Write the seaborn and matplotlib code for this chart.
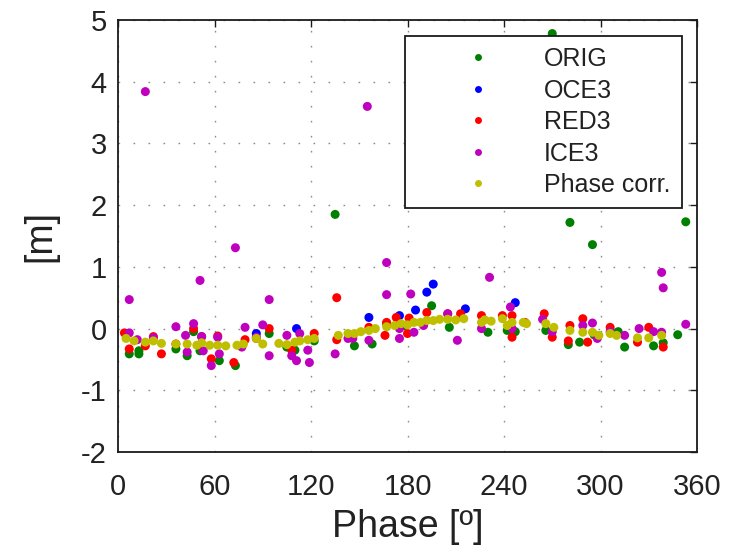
import matplotlib
matplotlib.use("Agg")
import matplotlib.pyplot as plt
from matplotlib.lines import Line2D
import seaborn as sns
import pandas as pd

# ---------------- data ----------------
series_names = ["ORIG", "OCE3", "RED3", "ICE3", "Phase corr."]
series_colors = ["#008000", "#0000ff", "#ff0000", "#bf00bf", "#bfbf00"]

orig_phase = [7, 13, 13, 36, 43, 47, 51, 63, 73, 94, 105, 110, 122, 135, 147, 158,
              167, 178, 195, 206, 230, 242, 247, 266, 270, 280, 281, 287, 295, 296,
              311, 315, 333, 339, 348, 353]
orig_val = [-0.41, -0.41, -0.36, -0.33, -0.44, -0.05, -0.36, -0.52, -0.60, -0.08,
            -0.30, -0.35, -0.20, 1.85, -0.28, -0.25, 0.08, 0.05, 0.37, 0.02, -0.06,
            -0.03, -0.05, -0.03, 4.78, -0.26, 1.72, -0.22, 1.36, -0.10, -0.05, -0.30,
            -0.28, -0.23, -0.10, 1.73]

oce_phase = [86, 111, 156, 175, 185, 192, 196, 216, 247]
oce_val = [-0.08, 0.00, 0.18, 0.21, 0.30, 0.59, 0.72, 0.32, 0.42]

red_phase = [4, 7, 17, 22, 27, 36, 47, 52, 58, 62, 72, 79, 86, 94, 108, 122, 136,
             136, 156, 166, 167, 173, 180, 181, 192, 205, 213, 226, 239, 245, 245,
             253, 265, 270, 280, 281, 289, 292, 306, 323, 330, 339]
red_val = [-0.07, -0.33, -0.28, -0.13, -0.41, -0.25, 0.00, -0.13, -0.49, -0.12,
           -0.55, -0.18, -0.16, 0.00, -0.35, -0.08, 0.50, -0.18, 0.02, -0.11, 0.10,
           0.18, -0.08, 0.17, 0.26, 0.24, 0.24, 0.21, 0.21, -0.14, 0.21, 0.10, 0.24,
           -0.14, -0.20, 0.05, 0.16, -0.22, 0.02, -0.22, 0.02, -0.30]

ice_phase = [7, 7, 12, 17, 22, 36, 42, 43, 47, 51, 52, 53, 58, 62, 63, 73, 77, 79,
             86, 90, 94, 94, 105, 108, 111, 113, 118, 119, 135, 143, 146, 155, 156,
             167, 167, 175, 175, 182, 184, 190, 205, 211, 226, 231, 244, 245, 264,
             270, 289, 295, 298, 306, 315, 324, 333, 338, 338, 339, 353]
ice_val = [0.47, -0.07, -0.18, 3.84, -0.15, 0.03, -0.11, -0.38, 0.08, 0.78, -0.13,
           -0.36, -0.60, -0.14, -0.41, 1.31, -0.30, 0.02, -0.14, 0.06, 0.47, -0.44,
           -0.11, -0.44, -0.52, -0.08, -0.35, -0.55, -0.41, -0.16, -0.16, 3.60,
           -0.19, 1.07, 0.55, -0.16, 0.00, 0.56, -0.06, 0.05, 0.24, -0.19, 0.00,
           0.83, 0.35, 0.00, 0.15, -0.05, 0.05, 0.09, -0.16, -0.05, -0.11, 0.00,
           -0.05, -0.06, 0.91, 0.66, 0.07]

pc_phase = [5, 10, 17, 22, 27, 36, 43, 49, 52, 57, 62, 67, 74, 78, 86, 90, 100,
            105, 110, 113, 118, 122, 137, 143, 147, 151, 156, 160, 167, 172, 176,
            180, 184, 188, 192, 196, 200, 205, 210, 215, 226, 228, 232, 239, 242,
            245, 252, 254, 266, 271, 281, 289, 295, 299, 306, 310, 323, 330, 338]
pc_val = [-0.16, -0.20, -0.22, -0.20, -0.24, -0.25, -0.25, -0.27, -0.23, -0.27,
          -0.27, -0.28, -0.27, -0.25, -0.16, -0.25, -0.24, -0.26, -0.22, -0.20,
          -0.18, -0.16, -0.11, -0.08, -0.08, -0.05, -0.03, 0.00, 0.03, 0.05, 0.08,
          0.06, 0.10, 0.10, 0.13, 0.13, 0.15, 0.15, 0.14, 0.16, 0.10, 0.14, 0.12,
          0.16, 0.05, 0.10, 0.10, 0.08, 0.08, 0.02, -0.03, -0.06, -0.06, -0.11,
          -0.08, -0.11, -0.15, -0.15, -0.11]

x_ticks = [0, 60, 120, 180, 240, 300, 360]
y_ticks = [-2, -1, 0, 1, 2, 3, 4, 5]

# ---------------- build long table ----------------
frames = []
for name, ph, va in zip(series_names,
                        [orig_phase, oce_phase, red_phase, ice_phase, pc_phase],
                        [orig_val, oce_val, red_val, ice_val, pc_val]):
    frames.append(pd.DataFrame({"phase": ph, "value": va, "series": name}))
df = pd.concat(frames, ignore_index=True)
palette = dict(zip(series_names, series_colors))

# ---------------- style ----------------
sns.set_theme(style="white")
plt.rcParams["font.family"] = ["Liberation Sans", "DejaVu Sans"]
plt.rcParams["text.color"] = "#222222"
plt.rcParams["axes.labelcolor"] = "#222222"
plt.rcParams["xtick.color"] = "#222222"
plt.rcParams["ytick.color"] = "#222222"

fig = plt.figure(figsize=(7.29, 5.5), dpi=100)
ax = fig.add_axes([118 / 729, 1 - 452 / 550, 579 / 729, 432 / 550])

sns.scatterplot(data=df, x="phase", y="value", hue="series", hue_order=series_names,
                palette=palette, s=42, linewidth=0, legend=False, ax=ax, zorder=3)

ax.set_xlim(0, 360)
ax.set_ylim(-2, 5)
ax.set_xticks(x_ticks)
ax.set_yticks(y_ticks)
ax.set_xticklabels([str(t) for t in x_ticks])
ax.set_yticklabels([str(t) for t in y_ticks])

ax.grid(True, color="#8c8c8c", linestyle=(0, (1.2, 9.6)), linewidth=1.0, zorder=0)
ax.set_axisbelow(True)
for sp in ax.spines.values():
    sp.set_visible(True)
    sp.set_color("#1a1a1a")
    sp.set_linewidth(1.3)

ax.tick_params(axis="both", which="major", direction="in", length=5, width=1,
               top=True, right=True, labelsize=21, color="#1a1a1a")
ax.tick_params(axis="x", pad=15)
ax.tick_params(axis="y", pad=8)

ax.set_xlabel("Phase [º]", fontsize=27, labelpad=6)
ax.set_ylabel("[m]", fontsize=27, labelpad=16)

handles = [Line2D([], [], marker="o", linestyle="", color=c, markersize=5,
                  markeredgewidth=0) for c in series_colors]
leg = ax.legend(handles, series_names, loc="upper right",
                bbox_to_anchor=(0.974, 0.963), fontsize=18, frameon=True,
                fancybox=False, framealpha=1, edgecolor="#1a1a1a",
                borderpad=0.45, handlelength=4.9, handletextpad=0.2,
                labelspacing=0.3, borderaxespad=0)
leg.get_frame().set_linewidth(1.3)
leg.set_zorder(5)

fig.savefig("out.png", dpi=100, facecolor="white")
